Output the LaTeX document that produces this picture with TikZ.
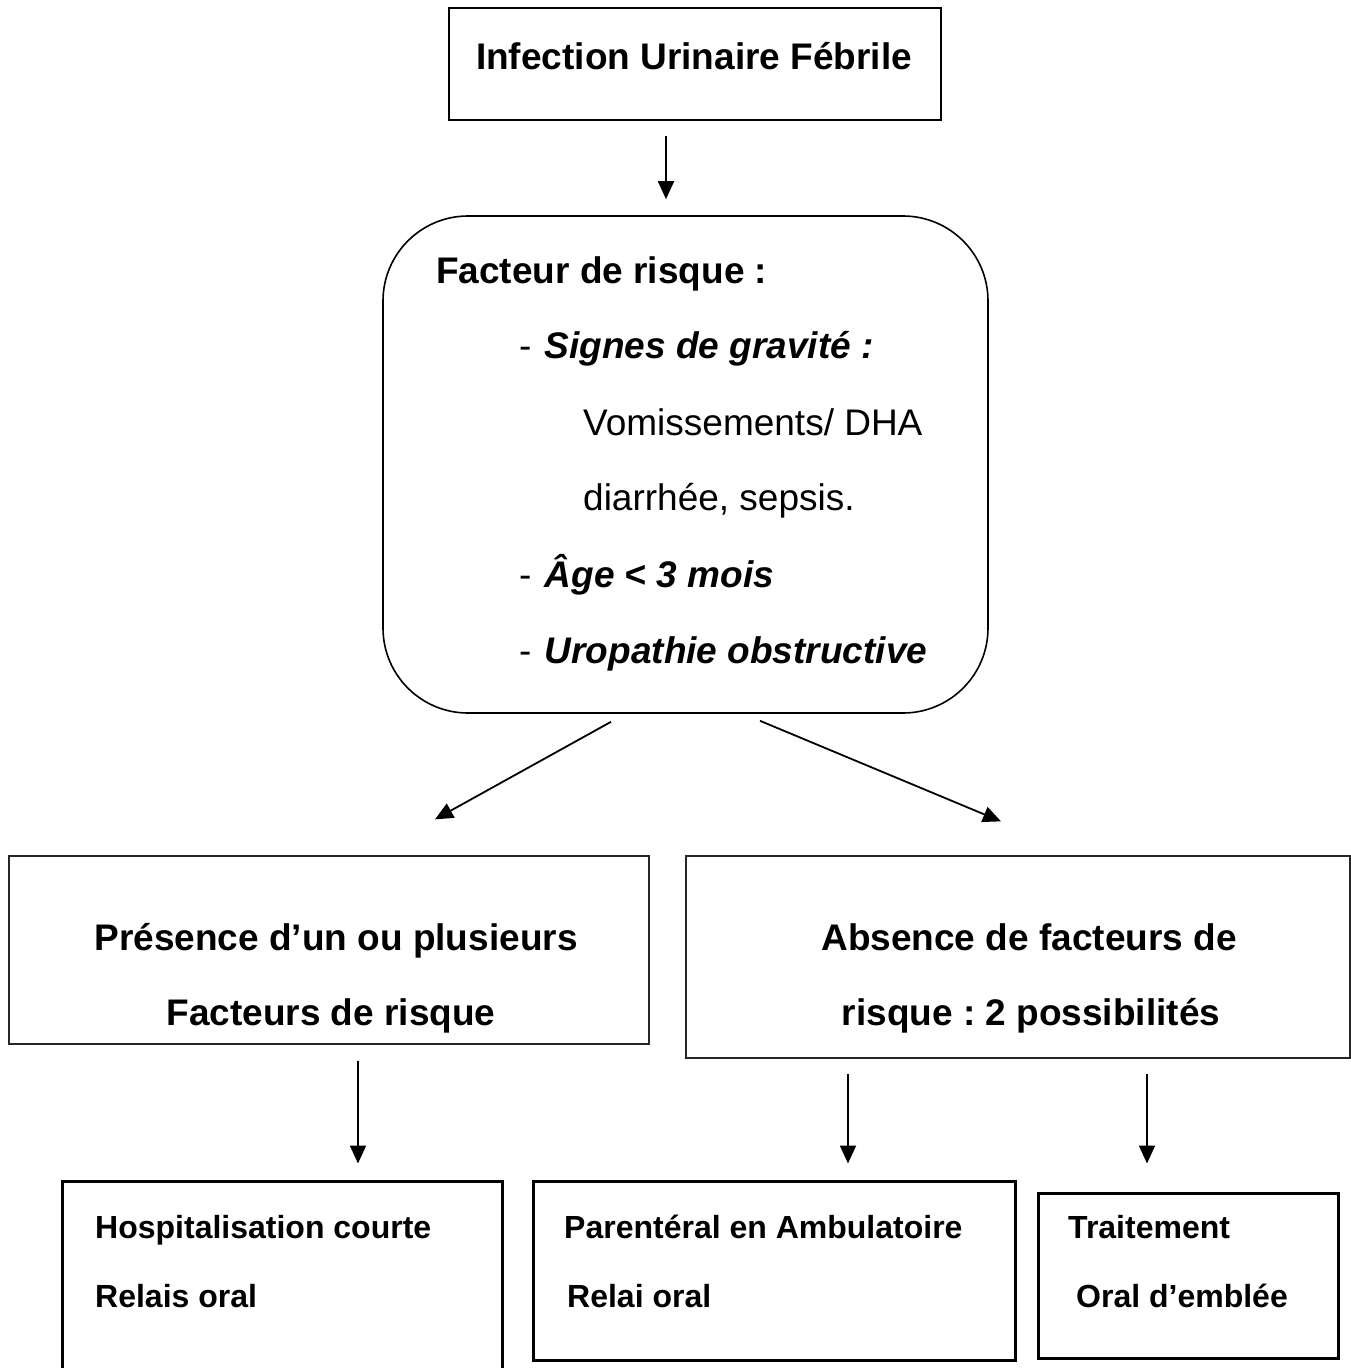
\documentclass[tikz,border=0pt]{standalone}
\usepackage{fontspec}
\setmainfont{Liberation Sans}
\frenchspacing
\usetikzlibrary{arrows.meta}

\tikzset{
  box/.style={draw, line width=1.6pt, inner sep=0pt},
  thinbox/.style={draw=black!85, line width=1.3pt, inner sep=0pt},
  thickbox/.style={draw, line width=3pt, inner sep=0pt},
  big/.style={font=\fontsize{37}{44}\selectfont, inner sep=0pt, anchor=base west},
  bigc/.style={font=\bfseries\fontsize{37}{44}\selectfont, inner sep=0pt, anchor=base},
  small/.style={font=\bfseries\fontsize{32}{38}\selectfont, inner sep=0pt, anchor=base west},
  arr/.style={-{Triangle[length=18pt,width=16pt]}, line width=1.8pt},
}

\begin{document}
\begin{tikzpicture}[x=1pt,y=-1pt]
    \useasboundingbox (0,0) rectangle (1351,1368);
    \clip (0,0) rectangle (1351,1368);

    % boxes
    \node[box, minimum width=492pt, minimum height=112pt] (ium) at (695,64) {};
    \node[box, rounded corners=85pt, minimum width=605pt, minimum height=497pt] (fdr) at (685.5,464.5) {};
    \node[thinbox, minimum width=640pt, minimum height=188pt] (pres) at (329,950) {};
    \node[thinbox, minimum width=664pt, minimum height=202pt] (abs) at (1018,957) {};
    \node[thickbox, minimum width=440pt, minimum height=219pt] (hosp) at (282,1290.5) {};
    \node[thickbox, minimum width=482pt, minimum height=179pt] (amb) at (774,1270.5) {};
    \node[thickbox, minimum width=300pt, minimum height=165pt] (oral) at (1188,1275.5) {};

    % texts
    \node[bigc] (t1) at (694,69) {Infection Urinaire Fébrile};

    \node[big] (f1) at (436,283) {\bfseries Facteur de risque :};
    \node[big] (f2) at (519,358) {- \hspace{3pt}\textbf{\textit{Signes de gravité :}}};
    \node[big] (f3) at (583,435) {Vomissements/ DHA};
    \node[big] (f4) at (583,510) {diarrhée, sepsis.};
    \node[big] (f5) at (519,587) {- \hspace{3pt}\textbf{\textit{Âge < 3 mois}}};
    \node[big] (f6) at (519,663) {- \hspace{3pt}\textbf{\textit{Uropathie obstructive}}};

    \node[bigc] (p1) at (336,950) {Présence d’un ou plusieurs};
    \node[bigc] (p2) at (331,1025) {Facteurs de risque};
    \node[bigc] (a1) at (1029,950) {Absence de facteurs de};
    \node[bigc] (a2) at (1031,1025) {risque : 2 possibilités};

    \node[small] (h1) at (95,1238) {Hospitalisation courte};
    \node[small] (h2) at (95,1307) {Relais oral};
    \node[small] (m1) at (564,1238) {Parentéral en Ambulatoire};
    \node[small] (m2) at (567,1307) {Relai oral};
    \node[small] (o1) at (1068,1238) {Traitement};
    \node[small] (o2) at (1076,1307) {Oral d’emblée};

    % arrows
    \draw[arr] ([xshift=-29pt,yshift=-15pt]ium.south) -- ([xshift=-19.5pt,yshift=16pt]fdr.north);
    \draw[arr] ([xshift=-74.5pt,yshift=-8pt]fdr.south) -- ([xshift=106pt,yshift=36pt]pres.north);
    \draw[arr] ([xshift=74.5pt,yshift=-7pt]fdr.south) -- ([xshift=-17pt,yshift=34pt]abs.north);
    \draw[arr] ([xshift=29pt,yshift=-16pt]pres.south) -- ([xshift=76pt,yshift=16pt]hosp.north);
    \draw[arr] ([xshift=-170pt,yshift=-15pt]abs.south) -- ([xshift=74pt,yshift=16pt]amb.north);
    \draw[arr] ([xshift=129pt,yshift=-15pt]abs.south) -- ([xshift=-41pt,yshift=28pt]oral.north);
\end{tikzpicture}
\end{document}
